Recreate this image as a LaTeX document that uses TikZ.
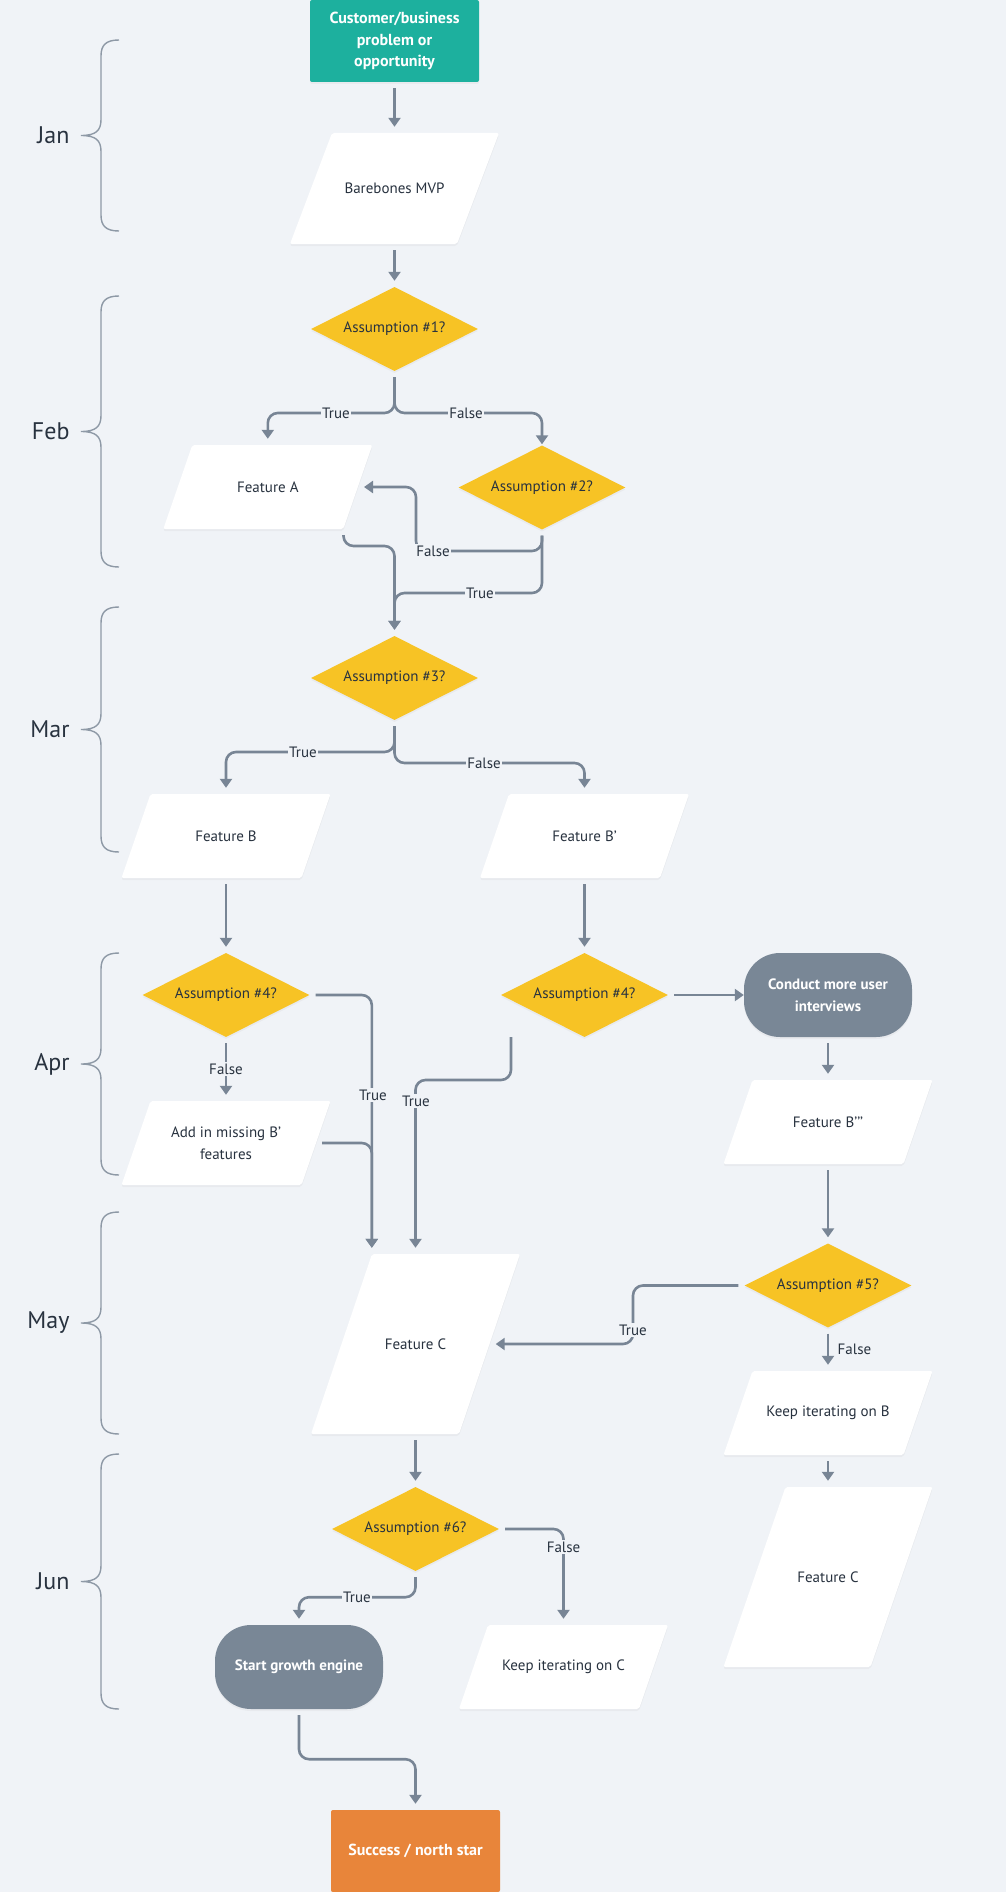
\documentclass[tikz,border=0pt]{standalone}
\usepackage{fontspec}
\setmainfont{PT Sans}
\usetikzlibrary{shapes.geometric,arrows.meta,shadows,calc}

\definecolor{bg}{HTML}{F0F3F7}
\definecolor{ink}{HTML}{28323F}
\definecolor{wire}{HTML}{788595}
\definecolor{bracecol}{HTML}{8E99A6}
\definecolor{cteal}{HTML}{1DB09E}
\definecolor{cyel}{HTML}{F7C325}
\definecolor{cgray}{HTML}{798796}
\definecolor{corange}{HTML}{E8853A}

\begin{document}
\begin{tikzpicture}[x=1pt,y=-1pt,
    every node/.style={text=ink, font=\fontsize{15}{21.5}\selectfont},
    shade/.style={drop shadow={opacity=.07,shadow xshift=0pt,shadow yshift=-2pt}},
    box/.style={rectangle, minimum width=169pt, minimum height=82pt, rounded corners=2pt,
        text=white, font=\fontsize{16}{21.5}\bfseries\selectfont, align=center, shade},
    para/.style={rectangle, inner sep=0pt, align=center},
    dec/.style={diamond, aspect=2, minimum width=167pt, minimum height=84pt,
        inner sep=0pt, fill=cyel, shade},
    pill/.style={rectangle, rounded corners=36pt, minimum width=168pt, minimum height=84pt,
        fill=cgray, text=white, font=\fontsize{15}{21.5}\bfseries\selectfont, align=center, shade},
    conn/.style={draw=wire, line width=2.6pt, rounded corners=10pt,
        -{Triangle[length=9pt,width=12pt]}, shorten >=6pt, shorten <=6pt},
    lbl/.style={fill=bg, inner sep=1.5pt, font=\fontsize{15}{18}\selectfont},
    brc/.style={draw=bracecol, line width=1.4pt},
    mon/.style={anchor=east, font=\fontsize{24}{28}\selectfont}]

    \useasboundingbox (0,0) rectangle (1006,1892);
    \fill[bg] (0,0) rectangle (1006,1892);

    % months
    \foreach \ya/\yb/\lab in {40/231/Jan, 296/567/Feb, 607/852/Mar, 953/1175/Apr, 1212/1434/May, 1454/1709/Jun}{
        \pgfmathsetmacro{\ym}{(\ya+\yb)/2}
        \draw[brc] (119,\ya) .. controls (106,\ya) and (101,{\ya+5}) .. (101,{\ya+16})
            -- (101,{\ym-16}) .. controls (101,{\ym-5}) and (96,\ym) .. (81,\ym)
            .. controls (96,\ym) and (101,{\ym+5}) .. (101,{\ym+16})
            -- (101,{\yb-16}) .. controls (101,{\yb-5}) and (106,\yb) .. (119,\yb);
        \node[mon] (m\lab) at (73,\ym) {\lab};
    }

    % parallelograms: name/x/y/height/slant/text
    \foreach \n/\x/\y/\h/\s/\t in {
        mvp/394.5/188.5/111/42/{Barebones MVP},
        fa/267.8/487/84/29/{Feature A},
        fb/226/836/84/29/{Feature B},
        fb2/584.5/836/84/29/{Feature B’},
        addb/226/1143/84/29/{Add in missing B’\\features},
        fb3/828/1122/84/29/{Feature B’’’},
        keepb/828/1413/84/29/{Keep iterating on B},
        keepc/563.5/1667/84/29/{Keep iterating on C},
        fc/415.5/1344/180/61/{Feature C},
        fc2/828/1577/180/62/{Feature C}}{
        \pgfmathsetmacro{\pw}{209-\s}
        \fill[white, rounded corners=2pt, shade]
            ({\x-\pw/2-\s/2},{\y+\h/2}) -- ({\x+\pw/2-\s/2},{\y+\h/2})
            -- ({\x+\pw/2+\s/2},{\y-\h/2}) -- ({\x-\pw/2+\s/2},{\y-\h/2}) -- cycle;
        \node[para, minimum width=\pw pt, minimum height=\h pt] (\n) at (\x,\y) {\t};
    }

    % other shapes
    \node[box, fill=cteal] (prob) at (394.5,41) {Customer/business\\problem or\\opportunity};
    \node[dec] (a1) at (394.5,329) {Assumption \#1?};
    \node[dec] (a2) at (542,487.5) {Assumption \#2?};
    \node[dec] (a3) at (394.5,678) {Assumption \#3?};
    \node[dec] (a4l) at (226,995) {Assumption \#4?};
    \node[dec] (a4r) at (584.5,995) {Assumption \#4?};
    \node[pill] (interv) at (828,995) {Conduct more user\\interviews};
    \node[dec] (a5) at (828,1285.5) {Assumption \#5?};
    \node[dec] (a6) at (415.5,1529) {Assumption \#6?};
    \node[pill] (grow) at (299,1667) {Start growth engine};
    \node[box, fill=corange] (succ) at (415.5,1851) {Success / north star};

    % Jan
    \draw[conn] (prob) -- (mvp);
    \draw[conn] (mvp) -- (a1);

    % Feb
    \coordinate (s1) at (394.5,413);
    \coordinate (r2) at (416,551);
    \coordinate (j1) at (394.5,546);
    \coordinate (j2) at (394.5,593);
    \coordinate (fabr) at ($(fa.south east)+(-14.5,0)$);
    \draw[conn] (a1) -- (s1) -| (fa);
    \draw[conn, shorten >=1pt] (a1) -- (s1) -| (a2);
    \draw[conn] (a2) |- (r2) |- (fa);
    \draw[conn] (a2) |- (j2) -- (a3);
    \draw[conn] (fabr) |- (j1) -- (a3);
    \node[lbl] (lt1) at (336,413) {True};
    \node[lbl] (lf1) at (466,413) {False};
    \node[lbl] (lf2) at (433,551) {False};
    \node[lbl] (lt2) at (480,593) {True};

    % Mar
    \coordinate (s3) at (394.5,752);
    \coordinate (s4) at (394.5,763);
    \draw[conn] (a3) -- (s3) -| (fb);
    \draw[conn] (a3) -- (s4) -| (fb2);
    \node[lbl] (lt3) at (303,752) {True};
    \node[lbl] (lf3) at (484,763) {False};
    \draw[conn] (fb) -- (a4l);
    \draw[conn] (fb2) -- (a4r);

    % Apr
    \coordinate (o4) at (511,1037);
    \coordinate (fctl) at ($(fc.north west)+(30.5,0)$);
    \draw[conn] (a4l) -| (fctl);
    \draw[conn] (addb) -| (fctl);
    \draw[conn] (a4l) -- (addb);
    \draw[conn, shorten <=0pt] (o4) -- ++(0,43) -| (fc);
    \draw[conn, shorten >=0pt] (a4r) -- (interv);
    \draw[conn] (interv) -- (fb3);
    \draw[conn] (fb3) -- (a5);
    \node[lbl] (lt4) at (373,1095) {True};
    \node[lbl] (lf4) at (226,1069) {False};
    \node[lbl] (lt5) at (416,1101) {True};

    % May
    \coordinate (t6) at (633,1344);
    \draw[conn] (a5) -| (t6) -- (fc);
    \draw[conn] (a5) -- (keepb);
    \draw[conn] (keepb) -- (fc2);
    \draw[conn] (fc) -- (a6);
    \node[lbl] (lt6) at (633,1330) {True};
    \node[lbl, fill=none, anchor=west] (lf6) at (836,1349) {False};

    % Jun
    \draw[conn] (a6) -| (keepc);
    \draw[conn] (a6.south) -- ++(0,26) -| (grow);
    \draw[conn] (grow.south) -- ++(0,50) -| (succ);
    \node[lbl] (lf7) at (563.5,1547) {False};
    \node[lbl] (lt7) at (357,1597) {True};

\end{tikzpicture}
\end{document}
